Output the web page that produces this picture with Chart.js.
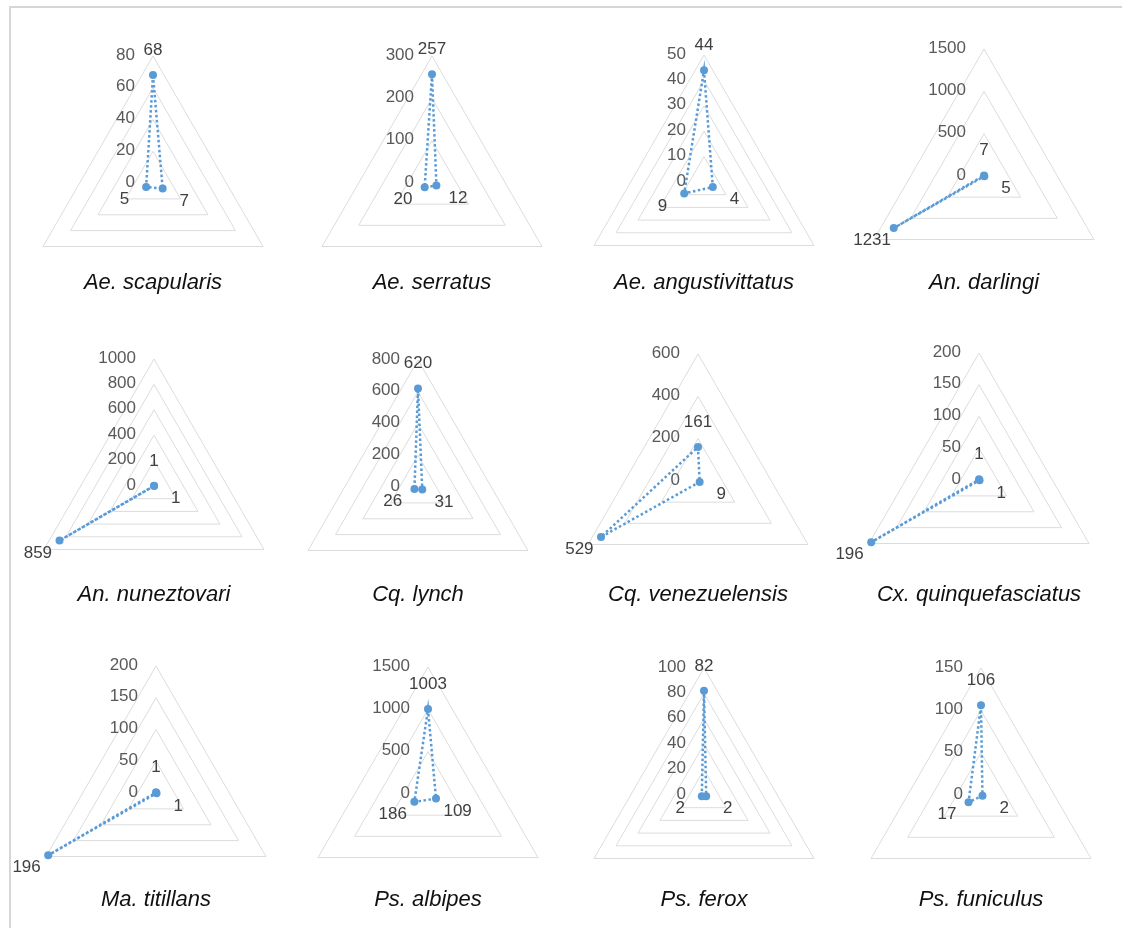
<!DOCTYPE html>
<html>
<head>
<meta charset="utf-8">
<script src="https://cdn.jsdelivr.net/npm/chart.js@4.4.1/dist/chart.umd.min.js"></script>
<style>
  html, body { margin: 0; padding: 0; background: #fff; }
  body { width: 1122px; height: 928px; position: relative; overflow: hidden; }
  #marco { position: absolute; left: 9px; top: 6px; width: 1200px; height: 1000px;
           border-top: 2px solid #d6d6d6; border-left: 2px solid #d6d6d6; }
  canvas { position: absolute; }
</style>
</head>
<body>
<div id="marco"></div>
<script>
// especies y conteos por sitio (arriba, abajo derecha, abajo izquierda)
const especies = ["Ae. scapularis", "Ae. serratus", "Ae. angustivittatus", "An. darlingi",
                  "An. nuneztovari", "Cq. lynch", "Cq. venezuelensis", "Cx. quinquefasciatus",
                  "Ma. titillans", "Ps. albipes", "Ps. ferox", "Ps. funiculus"];
const sitios = ["Sitio 1", "Sitio 2", "Sitio 3"];
const conteoSitio1 = [68, 257, 44, 7, 1, 620, 161, 1, 1, 1003, 82, 106];
const conteoSitio2 = [7, 12, 4, 5, 1, 31, 9, 1, 1, 109, 2, 2];
const conteoSitio3 = [5, 20, 9, 1231, 859, 26, 529, 196, 196, 186, 2, 17];
const escalaMax = [80, 300, 50, 1500, 1000, 800, 600, 200, 200, 1500, 100, 150];
const escalaPaso = [20, 100, 10, 500, 200, 200, 200, 50, 50, 500, 20, 50];

// ubicación de cada radar en la página
const centros = [[153, 183], [432, 183], [704, 182], [984, 176],
                 [154, 486], [418, 487], [698, 481], [979, 480],
                 [156, 793], [428, 794], [704, 795], [981, 795]];
const lineaTitulo = [289, 289, 289, 289, 601, 601, 601, 601, 906, 906, 906, 906];
const RADIO = 127;
const LADO = 300;

const AZUL = "#5b9bd5";
const FUENTE = "'Liberation Sans', Arial, sans-serif";

const etiquetasPlugin = {
    id: "etiquetas",
    afterDraw(chart, args, opts) {
        const ctx = chart.ctx;
        const r = chart.scales.r;
        ctx.save();

        // valores del eje a la izquierda del vértice superior
        ctx.font = "17px " + FUENTE;
        ctx.fillStyle = "#595959";
        ctx.textAlign = "right";
        ctx.textBaseline = "middle";
        r.ticks.forEach((t) => {
            const y = r.yCenter - r.getDistanceFromCenterForValue(t.value);
            ctx.fillText(String(t.value), r.xCenter - 18, y - 1);
        });

        // rótulos de datos hacia afuera de cada punto
        const meta = chart.getDatasetMeta(0);
        const datos = chart.data.datasets[0].data;
        ctx.fillStyle = "#404040";
        ctx.textAlign = "center";
        meta.data.forEach((p, i) => {
            const ang = r.getIndexAngle(i) - Math.PI / 2;
            ctx.fillText(String(datos[i]), p.x + 25 * Math.cos(ang), p.y + 25 * Math.sin(ang));
        });

        // nombre de la especie
        ctx.font = "italic 22px " + FUENTE;
        ctx.fillStyle = "#111";
        ctx.textBaseline = "alphabetic";
        ctx.fillText(opts.nombre, r.xCenter, opts.base);
        ctx.restore();
    }
};

especies.forEach((nombre, k) => {
    const [cx, cy] = centros[k];
    const canvas = document.createElement("canvas");
    canvas.width = LADO;
    canvas.height = LADO;
    canvas.style.left = (cx - LADO / 2) + "px";
    canvas.style.top = (cy - LADO / 2) + "px";
    document.body.appendChild(canvas);

    const margen = LADO / 2 - RADIO;
    new Chart(canvas, {
        type: "radar",
        data: {
            labels: sitios,
            datasets: [{
                label: nombre,
                data: [conteoSitio1[k], conteoSitio2[k], conteoSitio3[k]],
                borderColor: AZUL,
                borderWidth: 2.5,
                borderDash: [2.5, 2.5],
                fill: false,
                pointRadius: 4,
                pointBackgroundColor: AZUL,
                pointBorderWidth: 0
            }]
        },
        options: {
            responsive: false,
            animation: false,
            layout: { padding: margen },
            plugins: {
                legend: { display: false },
                tooltip: { enabled: false },
                etiquetas: { nombre: nombre, base: lineaTitulo[k] - (cy - LADO / 2) }
            },
            scales: {
                r: {
                    min: 0,
                    max: escalaMax[k],
                    ticks: { display: false, stepSize: escalaPaso[k] },
                    grid: { circular: false, color: "#dcdcdc", lineWidth: 1 },
                    angleLines: { display: false },
                    pointLabels: { display: false }
                }
            }
        },
        plugins: [etiquetasPlugin]
    });
});
</script>
</body>
</html>
